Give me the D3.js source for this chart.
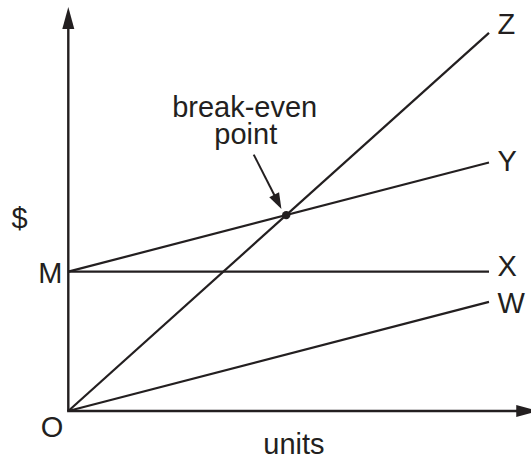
<!DOCTYPE html>
<html>
<head>
<meta charset="utf-8">
<script src="https://cdn.jsdelivr.net/npm/d3@7"></script>
<style>
  html, body { margin: 0; padding: 0; background: #fff; }
  svg { display: block; }
  text { font-family: "Liberation Sans", Arial, Helvetica, sans-serif; fill: #231f20; }
</style>
</head>
<body>
<svg id="chart" width="531" height="461"></svg>
<script>
// ---- data (units on x, dollars on y) ----
const lineNames = ["Z", "Y", "X", "W"];
const lineStartX = [0, 0, 0, 0];
const lineStartY = [0, 34.5, 34.5, 0];
const lineEndX = [10, 10, 10, 10];
const lineEndY = [93.6, 61.5, 34.5, 27];
const yAxisLabels = ["M", "O"];
const yAxisLabelValues = [34.5, 0];
const xTitle = "units";
const yTitle = "$";
const annotationLines = ["break-even", "point"];

// ---- layout ----
const W = 531, H = 461;
const FS = 29;
const x = d3.scaleLinear().domain([0, 10]).range([68.3, 489]);
const y = d3.scaleLinear().domain([0, 100]).range([411, 7]);
const ink = "#231f20";
const svg = d3.select("#chart");

// axes
const xMax = 11.17, yMax = 100;
svg.append("line").attr("x1", x(0)).attr("y1", y(0)).attr("x2", x(0)).attr("y2", y(yMax) + 20)
  .attr("stroke", ink).attr("stroke-width", 2.4);
svg.append("line").attr("x1", x(0) - 1.2).attr("y1", y(0)).attr("x2", x(xMax) - 20).attr("y2", y(0))
  .attr("stroke", ink).attr("stroke-width", 2.4);
// arrowheads
const tipY = [x(0), y(yMax)];
svg.append("path").attr("d", d3.line()([[tipY[0], tipY[1]], [tipY[0] - 6, tipY[1] + 22], [tipY[0] + 6, tipY[1] + 22]]) + "Z")
  .attr("fill", ink);
const tipX = [x(xMax), y(0)];
svg.append("path").attr("d", d3.line()([[tipX[0], tipX[1]], [tipX[0] - 22, tipX[1] - 6], [tipX[0] - 22, tipX[1] + 6]]) + "Z")
  .attr("fill", ink);

// lines
const lines = lineNames.map((n, i) => ({
  name: n, x0: lineStartX[i], y0: lineStartY[i], x1: lineEndX[i], y1: lineEndY[i]
}));
svg.selectAll("line.series").data(lines).enter().append("line")
  .attr("class", "series")
  .attr("x1", d => x(d.x0)).attr("y1", d => y(d.y0))
  .attr("x2", d => x(d.x1)).attr("y2", d => y(d.y1))
  .attr("stroke", ink).attr("stroke-width", 2.2).attr("stroke-linecap", "butt");

// line labels
const labelDy = { Z: 1, Y: 8.5, X: 4.5, W: 11 };
svg.selectAll("text.lab").data(lines).enter().append("text")
  .attr("class", "lab")
  .attr("x", d => x(d.x1) + 8.5)
  .attr("y", d => y(d.y1) + labelDy[d.name])
  .attr("font-size", FS)
  .text(d => d.name);

// axis point labels
svg.append("text").attr("x", x(0) - 6).attr("y", y(yAxisLabelValues[0]) + 11.8)
  .attr("text-anchor", "end").attr("font-size", FS).text(yAxisLabels[0]);
svg.append("text").attr("x", x(0) - 5).attr("y", y(yAxisLabelValues[1]) + 25.8)
  .attr("text-anchor", "end").attr("font-size", FS).text(yAxisLabels[1]);

// axis titles
svg.append("text").attr("x", 19.5).attr("y", 227.5).attr("text-anchor", "middle")
  .attr("font-size", FS).text(yTitle);
svg.append("text").attr("x", 294).attr("y", 454).attr("text-anchor", "middle")
  .attr("font-size", FS).text(xTitle);

// break-even point: intersection of Z (revenue) and Y (total cost)
const zi = 0, yi = 1;
const sz = (lineEndY[zi] - lineStartY[zi]) / (lineEndX[zi] - lineStartX[zi]);
const sy = (lineEndY[yi] - lineStartY[yi]) / (lineEndX[yi] - lineStartX[yi]);
const bx = (lineStartY[yi] - lineStartY[zi]) / (sz - sy);
const by = lineStartY[zi] + sz * bx;
const px = x(bx), py = y(by);
svg.append("circle").attr("cx", px).attr("cy", py).attr("r", 4.2).attr("fill", ink);

// annotation arrow
const a0 = [px - 32.5, py - 60.5], a1 = [px - 4.8, py - 6.2];
const dx = a1[0] - a0[0], dy = a1[1] - a0[1], len = Math.hypot(dx, dy);
const ux = dx / len, uy = dy / len;
const hl = 16, hw = 5.5;
const base = [a1[0] - ux * hl, a1[1] - uy * hl];
svg.append("line").attr("x1", a0[0]).attr("y1", a0[1]).attr("x2", base[0] + ux * 2).attr("y2", base[1] + uy * 2)
  .attr("stroke", ink).attr("stroke-width", 2);
svg.append("path").attr("d", d3.line()([a1, [base[0] - uy * hw, base[1] + ux * hw], [base[0] + uy * hw, base[1] - ux * hw]]) + "Z")
  .attr("fill", ink);

// two-line annotation as one text block
const ann = svg.append("text").attr("text-anchor", "middle").attr("font-size", FS);
ann.append("tspan").attr("x", 244.7).attr("y", 116.6).text(annotationLines[0]);
ann.append("tspan").attr("x", 245.8).attr("y", 144.3).text(annotationLines[1]);
</script>
</body>
</html>
